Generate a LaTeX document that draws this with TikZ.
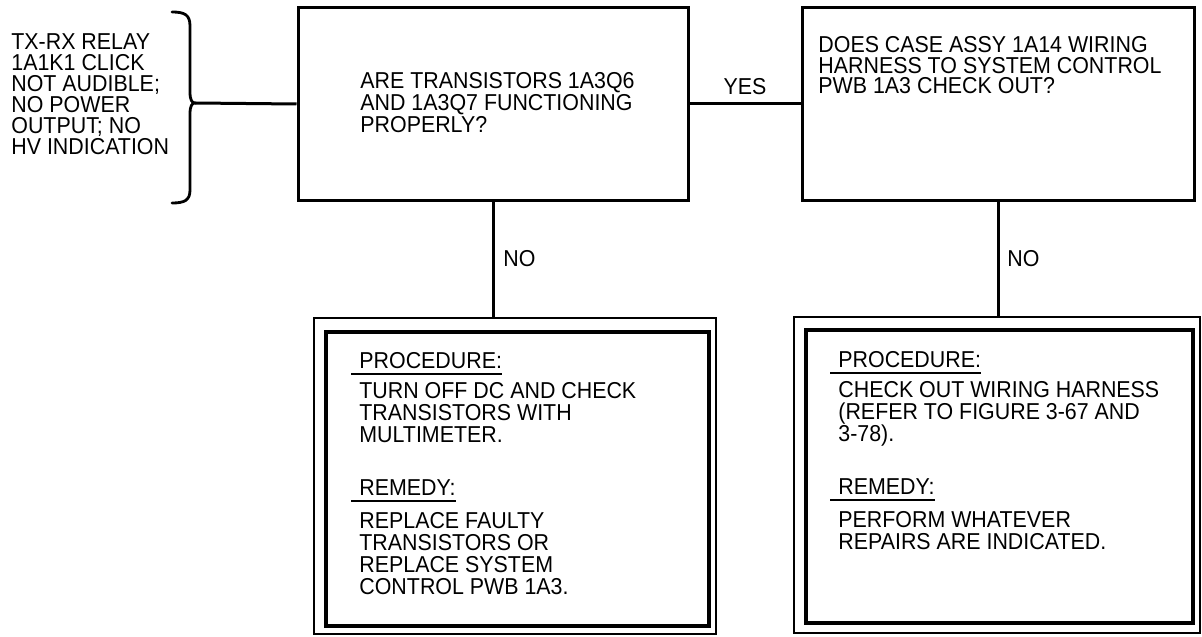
\documentclass[tikz,border=0pt]{standalone}
\usepackage{fontspec}
\setmainfont[FakeStretch=0.93]{Liberation Sans}
\newcommand\ulab[1]{\setbox0\hbox{#1}\rlap{\kern-4pt\rule[-3pt]{\dimexpr\wd0+4pt\relax}{0.9pt}}\box0}
\begin{document}
\begin{tikzpicture}[x=0.5pt,y=-0.5pt,
  font=\fontsize{11.5}{10.75}\selectfont,
  txt/.style={inner sep=0pt, align=left, anchor=base west},
  qbox/.style={draw, line width=1.5pt, inner sep=0pt, minimum height=96pt},
  obox/.style={draw, line width=1.25pt, inner sep=0pt, minimum height=158pt},
  ibox/.style={line width=2pt},
  conn/.style={line width=1.5pt},
  brace/.style={line width=1.4pt, line cap=round}]
\useasboundingbox (0,0) rectangle (1202,636);

% question boxes
\node[qbox, minimum width=195pt] (q1) at (493,104) {};
\node[qbox, minimum width=196pt] (q2) at (998,104) {};
% procedure boxes
\node[obox, minimum width=201pt] (p1) at (515,476) {};
\node[obox, minimum width=203pt] (p2) at (997,475) {};
\draw[ibox] ([shift={(13,15)}]p1.north west) rectangle ([shift={(-8,-9)}]p1.south east);
\draw[ibox] ([shift={(13,14)}]p2.north west) rectangle ([shift={(-8,-11)}]p2.south east);

% symptom text and brace (anchor = baseline of last line)
\node[txt, font=\fontsize{11.5}{10.5}\selectfont] (sym) at (11,155)
  {TX-RX RELAY\\1A1K1 CLICK\\NOT AUDIBLE;\\NO POWER\\OUTPUT; NO\\HV INDICATION};
\coordinate (bt) at (195,103);
\draw[brace] (172,12) .. controls (185,12) and (190,15) .. (190,26) -- (190,92)
  .. controls (190,100) and (192,103) .. (bt)
  .. controls (192,103) and (190,106) .. (190,114) -- (190,190)
  .. controls (190,200) and (185,203) .. (172,203);

% box texts
\node[txt, font=\fontsize{11.5}{10}\selectfont] (q1t) at (360,133)
  {ARE TRANSISTORS 1A3Q6\\AND 1A3Q7 FUNCTIONING\\PROPERLY?};
\node[txt, font=\fontsize{11.5}{10.25}\selectfont] (q2t) at (818,94)
  {DOES CASE ASSY 1A14 WIRING\\HARNESS TO SYSTEM CONTROL\\PWB 1A3 CHECK OUT?};

\node[txt, font=\fontsize{11.5}{11}\selectfont] (t1) at (359,594)
  {\ulab{PROCEDURE:}\\[3pt]TURN OFF DC AND CHECK\\TRANSISTORS WITH\\MULTIMETER.\\[15.5pt]%
   \ulab{REMEDY:}\\[4pt]REPLACE FAULTY\\TRANSISTORS OR\\REPLACE SYSTEM\\CONTROL PWB 1A3.};
\node[txt, font=\fontsize{11.5}{11}\selectfont] (t2) at (838,549)
  {\ulab{PROCEDURE:}\\[3pt]CHECK OUT WIRING HARNESS\\(REFER TO FIGURE 3-67 AND\\3-78).\\[15.5pt]%
   \ulab{REMEDY:}\\[4pt]PERFORM WHATEVER\\REPAIRS ARE INDICATED.};

% connectors and labels
\draw[conn] (bt) -- (q1.west);
\draw[conn] (q1.east) -- (q2.west);
\draw[conn] (q1.south) -- (q1.south |- p1.north);
\draw[conn] (q2.south) -- (q2.south |- p2.north);
\node[inner sep=0pt, anchor=base] (yes) at (745,95) {YES};
\node[txt] (no1) at (503,266) {NO};
\node[txt] (no2) at (1007,266) {NO};
\end{tikzpicture}
\end{document}
